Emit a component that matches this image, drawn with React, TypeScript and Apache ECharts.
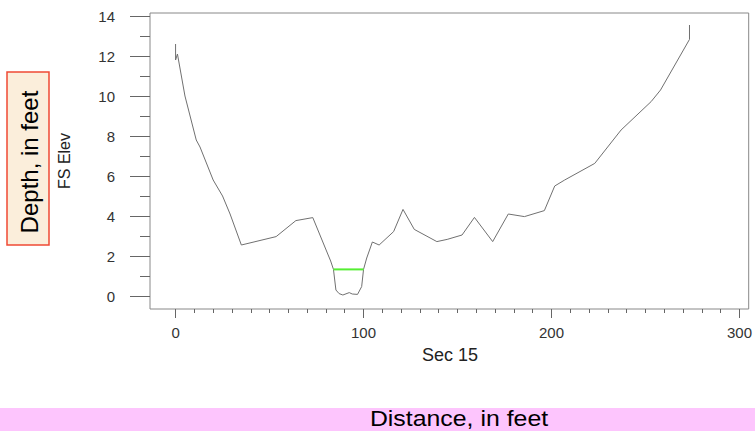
import React, { useEffect, useRef } from "react";
import * as echarts from "echarts";

// Cross-section profile (distance ft, elevation ft)
const distance = [0, 0, 1, 5, 11, 13, 20, 25, 29, 35, 53.5, 64, 73, 82.5, 84, 85.3, 87, 89, 92.4, 94, 96.8, 99, 100, 101.7, 104.7, 108.3, 116, 121, 127, 139, 144.5, 152.4, 159, 168.7, 177, 185.6, 196.2, 201.7, 207, 223, 237, 253, 258, 273.4, 273.4];
const elevation = [12.6, 11.8, 12.1, 10, 7.8, 7.45, 5.8, 5.0, 4.1, 2.55, 2.97, 3.77, 3.92, 1.75, 1.33, 0.3, 0.12, 0.05, 0.17, 0.1, 0.08, 0.47, 1.33, 1.9, 2.7, 2.55, 3.22, 4.33, 3.33, 2.72, 2.83, 3.05, 3.93, 2.72, 4.1, 3.97, 4.27, 5.5, 5.8, 6.63, 8.3, 9.72, 10.3, 12.83, 13.55];
// Water surface
const waterDistance = [84, 100];
const waterElevation = [1.33, 1.33];

const xMajorTicks = [0, 100, 200, 300];
const xMinorTicks = [0, 10, 20, 30, 40, 50, 60, 70, 80, 90, 100, 110, 120, 130, 140, 150, 160, 170, 180, 190, 200, 210, 220, 230, 240, 250, 260, 270, 280, 290, 300];
const yMajorTicks = [0, 2, 4, 6, 8, 10, 12, 14];
const yMinorTicks = [1, 3, 5, 7, 9, 11, 13];

const X_MIN = -13.6;
const X_MAX = 304.9;
const Y_MIN = -0.65;
const Y_MAX = 14.15;

export default function App() {
  const ref = useRef<HTMLDivElement>(null);
  useEffect(() => {
    if (!ref.current) return;
    const chart = echarts.init(ref.current, null, { renderer: "svg" });
    const tickColor = "#666";
    const labelColor = "#333";
    const font = "Liberation Sans, Arial, sans-serif";
    const profile = distance.map((d, i) => [d, elevation[i]]);
    const water = waterDistance.map((d, i) => [d, waterElevation[i]]);
    const axisBase = {
      type: "value",
      axisLine: { show: false, onZero: false },
      splitLine: { show: false },
    };
    chart.setOption({
      animation: false,
      backgroundColor: "#fff",
      grid: {
        left: 150,
        top: 13,
        right: 4,
        bottom: 122,
        show: true,
        borderColor: "#888",
        borderWidth: 1,
        backgroundColor: "transparent",
      },
      xAxis: [
        {
          ...axisBase,
          min: X_MIN,
          max: X_MAX,
          position: "bottom",
          axisTick: { show: true, inside: false, length: 9, customValues: xMajorTicks, lineStyle: { color: tickColor } },
          axisLabel: { customValues: xMajorTicks, margin: 16, fontSize: 15, color: labelColor, fontFamily: font },
        },
        {
          ...axisBase,
          min: X_MIN,
          max: X_MAX,
          position: "bottom",
          axisTick: { show: true, inside: false, length: 4, customValues: xMinorTicks, lineStyle: { color: tickColor } },
          axisLabel: { show: false },
        },
      ],
      yAxis: [
        {
          ...axisBase,
          min: Y_MIN,
          max: Y_MAX,
          position: "left",
          axisTick: { show: true, inside: false, length: 20, customValues: yMajorTicks, lineStyle: { color: tickColor } },
          axisLabel: { customValues: yMajorTicks, margin: 35, fontSize: 15, color: labelColor, fontFamily: font },
        },
        {
          ...axisBase,
          min: Y_MIN,
          max: Y_MAX,
          position: "left",
          axisTick: { show: true, inside: false, length: 10, customValues: yMinorTicks, lineStyle: { color: tickColor } },
          axisLabel: { show: false },
        },
      ],
      series: [
        {
          type: "line",
          data: profile,
          showSymbol: false,
          lineStyle: { color: "#707070", width: 1 },
          silent: true,
        },
        {
          type: "line",
          data: water,
          showSymbol: false,
          lineStyle: { color: "#55ee33", width: 2 },
          silent: true,
        },
      ],
      graphic: [
        {
          type: "text",
          x: 450,
          y: 355,
          style: { text: "Sec 15", fill: "#222", font: `18px ${font}`, align: "center", verticalAlign: "middle" },
        },
        {
          type: "text",
          x: 64,
          y: 161,
          rotation: Math.PI / 2,
          style: { text: "FS Elev", fill: "#222", font: `16px ${font}`, align: "center", verticalAlign: "middle" },
        },
        {
          type: "rect",
          shape: { x: 7, y: 72, width: 42, height: 173 },
          style: { fill: "#fbeedb", stroke: "#f04a35", lineWidth: 1.5 },
        },
        {
          type: "text",
          x: 29,
          y: 162,
          rotation: Math.PI / 2,
          style: { text: "Depth, in feet", fill: "#000", font: `24px ${font}`, align: "center", verticalAlign: "middle" },
        },
        {
          type: "rect",
          shape: { x: 0, y: 408, width: 755, height: 23 },
          style: { fill: "#fdc5fd" },
        },
        {
          type: "text",
          x: 459,
          y: 419,
          scaleX: 1.13,
          style: { text: "Distance, in feet", fill: "#000", font: `22px ${font}`, align: "center", verticalAlign: "middle" },
        },
      ],
    });
    return () => chart.dispose();
  }, []);
  return (
    <div
      ref={ref}
      style={{ position: "fixed", left: 0, top: 0, width: 755, height: 431, background: "#fff" }}
    />
  );
}
